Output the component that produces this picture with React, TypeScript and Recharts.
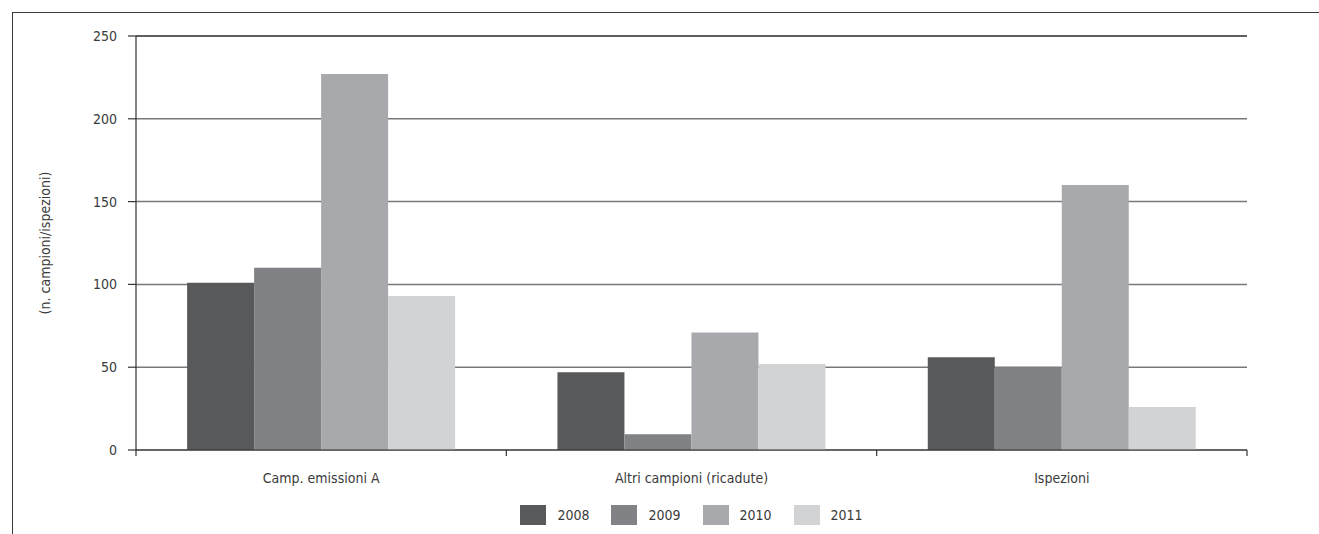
import React from 'react';
import { BarChart, Bar, XAxis, YAxis, CartesianGrid, Legend, ReferenceLine } from 'recharts';

const categories = ['Camp. emissioni A', 'Altri campioni (ricadute)', 'Ispezioni'];
const series2008 = [101, 47, 56];
const series2009 = [110, 9.5, 50];
const series2010 = [227, 71, 160];
const series2011 = [93, 52, 26];
const yTicks = [0, 50, 100, 150, 200, 250];
const seriesNames = ['2008', '2009', '2010', '2011'];
const colors = ['#58595b', '#808285', '#a7a9ac', '#d1d3d4'];

const data = categories.map((c, i) => ({
  name: c,
  '2008': series2008[i],
  '2009': series2009[i],
  '2010': series2010[i],
  '2011': series2011[i],
}));

const FONT = "'Liberation Sans Narrow', 'DejaVu Sans Condensed', 'Roboto Condensed', sans-serif";
const TEXT = '#3a3a3a';

const XTick = (props: any) => {
  const { x, y, payload, index, width, visibleTicksCount } = props;
  const band = width / visibleTicksCount;
  return (
    <g>
      <line x1={x + band / 2} x2={x + band / 2} y1={y} y2={y + 6} stroke="#333" strokeWidth={1.2} />
      {index === 0 && (
        <line x1={x - band / 2} x2={x - band / 2} y1={y} y2={y + 6} stroke="#333" strokeWidth={1.2} />
      )}
      <text x={x} y={y + 33} textAnchor="middle" fill={TEXT} fontSize={14} fontFamily={FONT} style={{ fontStretch: 'condensed' }}>
        {payload.value}
      </text>
    </g>
  );
};

const LegendContent = () => (
  <div style={{ display: 'flex', justifyContent: 'center', alignItems: 'center', height: 30, fontFamily: FONT, fontSize: 14, color: TEXT, fontStretch: 'condensed' }}>
    {seriesNames.map((n, i) => (
      <div key={n} style={{ display: 'flex', alignItems: 'center', margin: '0 11px' }}>
        <span style={{ display: 'inline-block', width: 26, height: 20, background: colors[i], marginRight: 11 }} />
        <span>{n}</span>
      </div>
    ))}
  </div>
);

export default function App() {
  return (
    <div>
      <style>{`body{margin:0;overflow:hidden}`}</style>
      <div style={{ marginLeft: 12, marginTop: 12, width: 1307, height: 522, borderTop: '1.5px solid #3a3a3a', borderLeft: '1.5px solid #3a3a3a', boxSizing: 'border-box' }}>
        <BarChart
          width={1306}
          height={521}
          data={data}
          margin={{ top: 23, right: 72, left: 0, bottom: 4 }}
          barCategoryGap="13.8%"
          barGap={0}
        >
          <CartesianGrid vertical={false} stroke="#77787b" strokeWidth={1.5} />
          <ReferenceLine y={250} stroke="#4a4a4a" strokeWidth={1.5} />
          <XAxis
            dataKey="name"
            height={50}
            axisLine={{ stroke: '#333', strokeWidth: 1.2 }}
            tickLine={false}
            tickSize={0}
            tickMargin={0}
            interval={0}
            tick={<XTick />}
          />
          <YAxis
            width={123}
            domain={[0, 250]}
            ticks={yTicks}
            axisLine={{ stroke: '#333', strokeWidth: 1.2 }}
            tickLine={{ stroke: '#333', strokeWidth: 1.2 }}
            tickSize={8}
            tickMargin={11}
            tick={{ fill: TEXT, fontSize: 14, fontFamily: FONT, fontStretch: 'condensed' } as any}
            label={{ value: '(n. campioni/ispezioni)', angle: -90, position: 'insideLeft', offset: 32, style: { textAnchor: 'middle', fill: TEXT, fontSize: 14, fontFamily: FONT, fontStretch: 'condensed' } }}
          />
          <Legend verticalAlign="bottom" height={30} content={<LegendContent />} wrapperStyle={{ left: 123, width: 1111 }} />
          {seriesNames.map((n, i) => (
            <Bar key={n} dataKey={n} fill={colors[i]} isAnimationActive={false} />
          ))}
        </BarChart>
      </div>
    </div>
  );
}
